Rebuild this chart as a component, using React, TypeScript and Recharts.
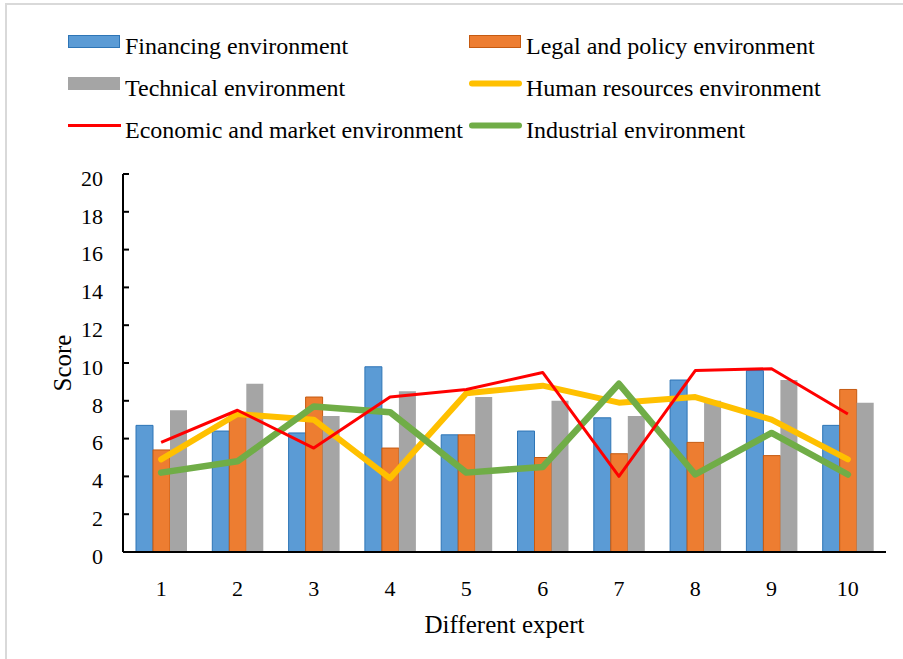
import React from "react"
import { Bar, ComposedChart, Line, XAxis, YAxis } from "recharts"

const categories = ["1", "2", "3", "4", "5", "6", "7", "8", "9", "10"]
const financing = [6.7, 6.4, 6.3, 9.8, 6.2, 6.4, 7.1, 9.1, 9.6, 6.7]
const legal = [5.4, 7.3, 8.2, 5.5, 6.2, 5.0, 5.2, 5.8, 5.1, 8.6]
const technical = [7.5, 8.9, 7.2, 8.5, 8.2, 8.0, 7.2, 8.0, 9.1, 7.9]
const human = [4.9, 7.3, 7.0, 3.9, 8.4, 8.8, 7.9, 8.2, 7.0, 4.9]
const economic = [5.8, 7.5, 5.5, 8.2, 8.6, 9.5, 4.0, 9.6, 9.7, 7.3]
const industrial = [4.2, 4.8, 7.7, 7.4, 4.2, 4.5, 8.9, 4.1, 6.3, 4.1]

const yTicks = [0, 2, 4, 6, 8, 10, 12, 14, 16, 18, 20]
const boundaryTicks = [1, 2, 3, 4, 5, 6, 7, 8, 9]

const FONT = "'Liberation Serif', 'Times New Roman', serif"

// legend order as in the picture (row by row, two columns)
const legendItems = [
  { name: "Financing environment", color: "#5B9BD5", border: "#2E75B6", kind: "bar" },
  { name: "Legal and policy environment", color: "#ED7D31", border: "#C55A11", kind: "bar" },
  { name: "Technical environment", color: "#A5A5A5", border: "#A5A5A5", kind: "bar" },
  { name: "Human resources environment", color: "#FFC000", width: 6, kind: "line" },
  { name: "Economic and market environment", color: "#FF0000", width: 3, kind: "line" },
  { name: "Industrial environment", color: "#70AD47", width: 6, kind: "line" },
]

const data = categories.map((c, i) => ({
  name: c,
  financing: financing[i],
  legal: legal[i],
  technical: technical[i],
  human: human[i],
  economic: economic[i],
  industrial: industrial[i],
}))

function ChartLegend() {
  return (
    <svg width={903} height={150} style={{ position: "absolute", left: 0, top: 0 }}>
      {legendItems.map((item, i) => {
        const col = i % 2
        const row = Math.floor(i / 2)
        const x = col === 0 ? 68 : 469
        const mid = 41.5 + row * 42
        return (
          <g key={item.name}>
            {item.kind === "bar" ? (
              <rect x={x + 0.5} y={mid - 6} width={51} height={12} fill={item.color} stroke={item.border} strokeWidth={1} />
            ) : (
              <line
                x1={x + (item.width === 3 ? 0 : 3)}
                x2={x + (item.width === 3 ? 53 : 50)}
                y1={mid}
                y2={mid}
                stroke={item.color}
                strokeWidth={item.width}
                strokeLinecap={item.width === 3 ? "butt" : "round"}
              />
            )}
            <text x={x + 57} y={54 + row * 42} fontFamily={FONT} fontSize={24} fill="#000">
              {item.name}
            </text>
          </g>
        )
      })}
    </svg>
  )
}

export default function App() {
  return (
    <div style={{ position: "absolute", left: 0, top: 0, width: 903, height: 659, overflow: "hidden", background: "#fff" }}>
      <div style={{ position: "absolute", left: 5, top: 3, width: 1000, height: 1000, border: "2px solid #D9D9D9" }} />
      <ChartLegend />
      <div style={{ position: "absolute", left: 0, top: 0 }}>
        <ComposedChart
          width={903}
          height={659}
          data={data}
          margin={{ top: 174, right: 17, bottom: 0, left: 0 }}
          barGap={0}
          barSize={17}
        >
          <XAxis
            xAxisId="edge"
            type="number"
            domain={[0, 10]}
            ticks={boundaryTicks}
            allowDataOverflow
            height={0}
            axisLine={false}
            tick={false}
            tickSize={-6}
            tickLine={{ stroke: "#000", strokeWidth: 2 }}
          />
          <XAxis
            xAxisId="cat"
            dataKey="name"
            height={107}
            axisLine={{ stroke: "#000", strokeWidth: 2 }}
            tickLine={false}
            tickSize={0}
            tickMargin={28}
            interval={0}
            tick={{ fontSize: 22, fill: "#000", fontFamily: FONT }}
            label={(props: any) => {
              const vb = props.viewBox
              return (
                <text x={vb.x + vb.width / 2} y={vb.y + 81} textAnchor="middle" fontSize={25} fontFamily={FONT} fill="#000">
                  Different expert
                </text>
              )
            }}
          />
          <XAxis xAxisId="top" orientation="top" height={0} tick={false} tickLine={false} axisLine={{ stroke: "#000", strokeWidth: 2 }} />
          <YAxis
            yAxisId="score"
            width={123}
            domain={[0, 20]}
            ticks={yTicks}
            interval={0}
            axisLine={{ stroke: "#000", strokeWidth: 2 }}
            tickSize={-6}
            tickMargin={26}
            tickLine={{ stroke: "#000", strokeWidth: 2 }}
            tick={{ fontSize: 22, fill: "#000", fontFamily: FONT, dy: 4 }}
            label={(props: any) => {
              const vb = props.viewBox
              const cy = vb.y + vb.height / 2
              return (
                <text x={71} y={cy} transform={`rotate(-90 71 ${cy})`} textAnchor="middle" fontSize={25} fontFamily={FONT} fill="#000">
                  Score
                </text>
              )
            }}
          />
          <YAxis yAxisId="right" orientation="right" width={0} domain={[0, 20]} tick={false} tickLine={false} axisLine={{ stroke: "#000", strokeWidth: 2 }} />

          <Bar xAxisId="cat" yAxisId="score" dataKey="financing" name={legendItems[0].name} fill={legendItems[0].color} stroke={legendItems[0].border} strokeWidth={1} isAnimationActive={false} />
          <Bar xAxisId="cat" yAxisId="score" dataKey="legal" name={legendItems[1].name} fill={legendItems[1].color} stroke={legendItems[1].border} strokeWidth={1} isAnimationActive={false} />
          <Bar xAxisId="cat" yAxisId="score" dataKey="technical" name={legendItems[2].name} fill={legendItems[2].color} isAnimationActive={false} />
          <Line xAxisId="cat" yAxisId="score" dataKey="human" name={legendItems[3].name} stroke={legendItems[3].color} strokeWidth={6} strokeLinecap="round" strokeLinejoin="round" dot={false} activeDot={false} isAnimationActive={false} />
          <Line xAxisId="cat" yAxisId="score" dataKey="industrial" name={legendItems[5].name} stroke={legendItems[5].color} strokeWidth={6.5} strokeLinecap="round" strokeLinejoin="round" dot={false} activeDot={false} isAnimationActive={false} />
          <Line xAxisId="cat" yAxisId="score" dataKey="economic" name={legendItems[4].name} stroke={legendItems[4].color} strokeWidth={3} strokeLinejoin="round" dot={false} activeDot={false} isAnimationActive={false} />
        </ComposedChart>
      </div>
    </div>
  )
}
